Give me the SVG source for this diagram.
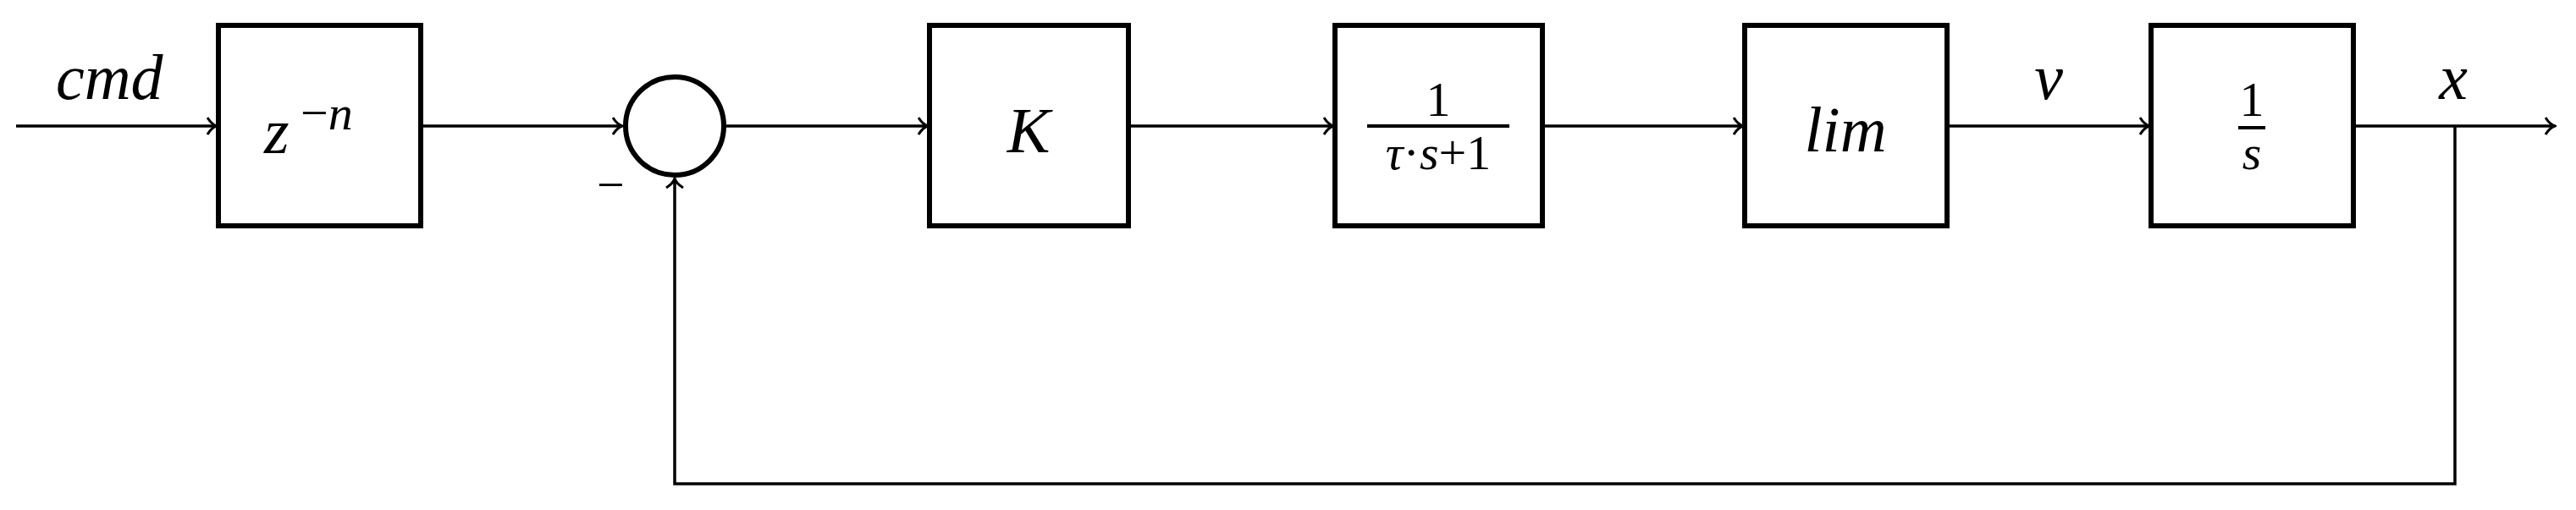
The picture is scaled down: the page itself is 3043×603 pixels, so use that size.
<svg xmlns="http://www.w3.org/2000/svg" width="3043" height="603" viewBox="0 0 3043 603">
<style>
.b{fill:#fff;stroke:#000;stroke-width:6}
.w{fill:none;stroke:#000;stroke-width:3.5}
.t{font-family:"Liberation Serif",serif;font-style:italic;font-size:76px;fill:#000}
.u{font-family:"Liberation Serif",serif;font-size:58px;fill:#000}
</style>
<defs><marker id="a" markerWidth="14" markerHeight="22" refX="12" refY="11" orient="auto" markerUnits="userSpaceOnUse"><path d="M1,1 Q6,9 12,11 Q6,13 1,21" fill="none" stroke="#000" stroke-width="3"/></marker></defs>
<rect width="3043" height="603" fill="#fff"/>
<g id="connectors">
<line class="w" x1="19" y1="149" x2="256" y2="149" marker-end="url(#a)"/>
<line class="w" x1="497" y1="149" x2="735" y2="149" marker-end="url(#a)"/>
<line class="w" x1="857" y1="149" x2="1096" y2="149" marker-end="url(#a)"/>
<line class="w" x1="1334" y1="149" x2="1575" y2="149" marker-end="url(#a)"/>
<line class="w" x1="1824" y1="149" x2="2059" y2="149" marker-end="url(#a)"/>
<line class="w" x1="2301" y1="149" x2="2539" y2="149" marker-end="url(#a)"/>
<line class="w" x1="2781" y1="149" x2="3018" y2="149" marker-end="url(#a)"/>
<polyline class="w" points="2900,149 2900,572 797,572 797,211" marker-end="url(#a)"/>
</g>
<g id="cmd"><text class="t" x="66" y="117">cmd</text></g>
<g id="delay"><rect class="b" x="258" y="30" width="239" height="237"/><text class="t" x="312" y="181">z</text><text class="u" x="355" y="153">−<tspan font-style="italic">n</tspan></text></g>
<g id="sum"><circle cx="797" cy="149" r="58" fill="#fff" stroke="#000" stroke-width="6"/><text class="u" x="705" y="238">−</text></g>
<g id="K"><rect class="b" x="1098" y="30" width="235" height="237"/><text class="t" x="1215" y="180" text-anchor="middle">K</text></g>
<g id="lag"><rect class="b" x="1577" y="30" width="245" height="237"/><text class="u" x="1699" y="137" text-anchor="middle">1</text><line x1="1615" y1="149" x2="1783" y2="149" stroke="#000" stroke-width="4"/><text class="u" x="1699" y="200" text-anchor="middle"><tspan font-style="italic">τ</tspan>·<tspan font-style="italic">s</tspan>+1</text></g>
<g id="lim"><rect class="b" x="2061" y="30" width="239" height="237"/><text class="t" x="2180" y="179" text-anchor="middle">lim</text></g>
<g id="vlabel"><text class="t" x="2420" y="117" text-anchor="middle">v</text></g>
<g id="integ"><rect class="b" x="2541" y="30" width="239" height="237"/><text class="u" x="2660" y="137" text-anchor="middle" font-size="50">1</text><line x1="2644" y1="151" x2="2676" y2="151" stroke="#000" stroke-width="4"/><text class="u" x="2660" y="200" text-anchor="middle" font-style="italic" font-size="50">s</text></g>
<g id="xlabel"><text class="t" x="2898" y="117" text-anchor="middle">x</text></g>
</svg>
